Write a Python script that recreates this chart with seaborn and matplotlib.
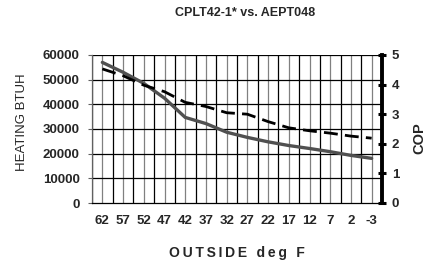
import numpy as np
import pandas as pd
import matplotlib
matplotlib.use('Agg')
import matplotlib.pyplot as plt
import seaborn as sns

# values
outside_temps = ['62', '57', '52', '47', '42', '37', '32', '27', '22', '17', '12', '7', '2', '-3']
heating_btuh = [57000, 53000, 48500, 42500, 34700, 32200, 28700, 26600, 24800, 23300, 22100, 20800, 19300, 18100]
cop = [4.53, 4.30, 3.98, 3.76, 3.40, 3.26, 3.05, 3.00, 2.75, 2.54, 2.44, 2.36, 2.26, 2.19]
btuh_ticks = [0, 10000, 20000, 30000, 40000, 50000, 60000]
cop_ticks = [0, 1, 2, 3, 4, 5]

df = pd.DataFrame({'temp': outside_temps, 'btuh': heating_btuh, 'cop': cop})

sns.set_style('white')
plt.rcParams['font.family'] = ['Liberation Sans', 'DejaVu Sans']

fig = plt.figure(figsize=(4.33, 2.64), dpi=100)
ax = fig.add_axes([92/433, 1 - 203/264, 290/433, 148/264])
ax2 = ax.twinx()

n = len(outside_temps)
# grid: black lines at category boundaries, grey lines at category centres
for i in range(n + 1):
    ax.axvline(i - 0.5, color='black', lw=0.9, zorder=0)
for i in range(n):
    ax.axvline(i, color='#808080', lw=0.9, zorder=0)
for v in btuh_ticks[1:]:
    ax.axhline(v, color='black', lw=0.9, zorder=0)

sns.lineplot(data=df, x='temp', y='btuh', ax=ax, color='#505050', lw=2.4, sort=False, zorder=3)
sns.lineplot(data=df, x='temp', y='cop', ax=ax2, color='black', lw=2.0, sort=False,
             linestyle=(0, (5, 2.6)), zorder=3)

ax.set_xlim(-0.5, n - 0.5)
ax.set_ylim(0, 60000)
ax2.set_ylim(0, 5)

tick_fs = 9.5
ax.set_xticks(np.arange(n))
ax.set_xticklabels(outside_temps, fontsize=tick_fs, fontweight='bold')
ax.set_xticks(np.arange(n + 1) - 0.5, minor=True)
ax.tick_params(axis='x', which='major', length=0, pad=9)
ax.tick_params(axis='x', which='minor', direction='out', length=4, width=0.9, color='black')
ax.set_yticks(btuh_ticks)
ax.set_yticklabels([str(v) for v in btuh_ticks], fontsize=tick_fs, fontweight='bold')
ax.tick_params(axis='y', direction='out', length=3, width=0.8, color='#606060', pad=6, left=True)

ax2.set_yticks(cop_ticks)
ax2.set_yticklabels([str(v) for v in cop_ticks], fontsize=tick_fs, fontweight='bold')
ax2.tick_params(axis='y', direction='inout', length=6, width=2.2, color='black', pad=4, right=True)

for a in (ax, ax2):
    a.spines['top'].set_visible(False)
ax.spines['right'].set_visible(False)
ax2.spines['left'].set_visible(False)
ax2.spines['bottom'].set_visible(False)
ax2.spines['right'].set_linewidth(2.8)
ax2.spines['right'].set_color('black')
ax.spines['left'].set_color('#606060')
ax.spines['left'].set_linewidth(0.9)
ax.spines['bottom'].set_color('black')
ax.spines['bottom'].set_linewidth(0.9)

ax.set_xlabel('')
ax.set_ylabel('')
ax2.set_ylabel('')
ax2.set_xlabel('')

fig.text(245/433, 1 - 13/264, 'CPLT42-1* vs. AEPT048', ha='center', va='center',
         fontsize=9, fontweight='bold')
fig.text(237/433, 1 - 253/264, '\u2009'.join('OUTSIDE deg F'),
         ha='center', va='center', fontsize=10, fontweight='bold')
fig.text(22/433, 1 - 122/264, 'HEATING BTUH', ha='center', va='center', rotation=90, fontsize=9.5)
fig.text(419/433, 1 - 138/264, 'COP', ha='center', va='center', rotation=90, fontsize=10.5, fontweight='bold')

fig.savefig('out.png', dpi=100)
